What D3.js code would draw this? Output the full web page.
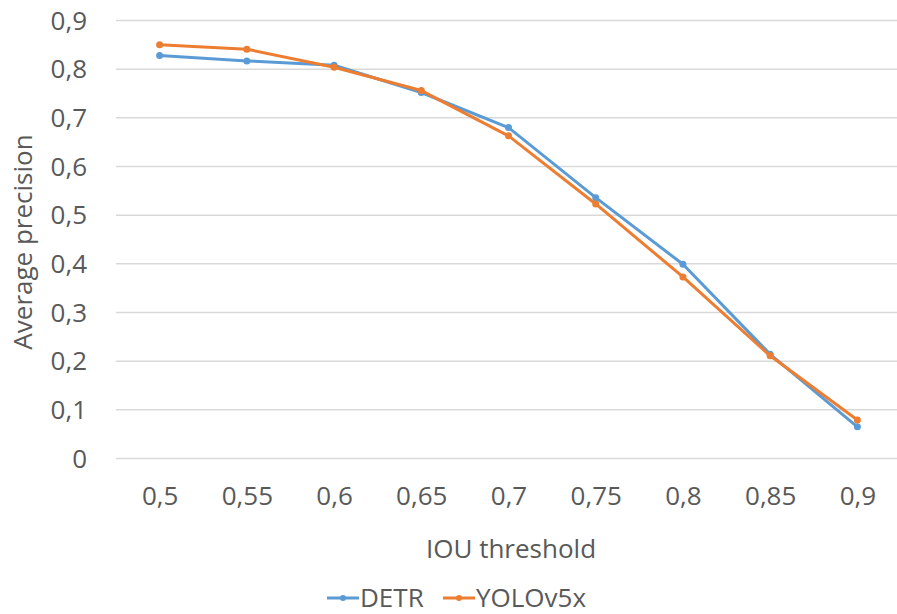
<!DOCTYPE html>
<html>
<head>
<meta charset="utf-8">
<script src="https://cdn.jsdelivr.net/npm/d3@7"></script>
<style>
  body { margin: 0; background: #fff; }
  text { font-family: "Open Sans", sans-serif; fill: #595959; }
</style>
</head>
<body>
<svg width="897" height="614"></svg>
<script>
// Chart data
const thresholds = ["0,5", "0,55", "0,6", "0,65", "0,7", "0,75", "0,8", "0,85", "0,9"];
const detr = [0.827, 0.816, 0.807, 0.751, 0.679, 0.535, 0.398, 0.213, 0.064];
const yolo = [0.849, 0.840, 0.803, 0.755, 0.662, 0.522, 0.372, 0.210, 0.078];
const yTicks = [0, 0.1, 0.2, 0.3, 0.4, 0.5, 0.6, 0.7, 0.8, 0.9];
const seriesNames = ["DETR", "YOLOv5x"];
const colors = ["#5B9BD5", "#ED7D31"];
const fontSize = "26px";

const svg = d3.select("svg");

// Plot area
const plot = { left: 116, right: 901, top: 20, bottom: 458 };

const x = d3.scalePoint()
    .domain(thresholds)
    .range([plot.left, plot.right])
    .padding(0.5);

const y = d3.scaleLinear()
    .domain([0, 0.9])
    .range([plot.bottom, plot.top]);

const fmt = d => String(+d.toFixed(1)).replace(".", ",");

// Gridlines + y labels
const yAxis = svg.append("g")
    .attr("transform", `translate(${plot.left},0)`)
    .call(d3.axisLeft(y).tickValues(yTicks).tickSize(0).tickPadding(29).tickFormat(fmt))
    .call(g => g.select(".domain").remove());
yAxis.selectAll(".tick text")
    .style("font-size", fontSize)
    .style("fill", "#595959")
    .attr("dy", "0.35em");
yAxis.selectAll(".tick line").clone()
    .attr("x2", 897 - plot.left)
    .attr("stroke", "#d9d9d9")
    .attr("stroke-width", 1.5);

// x labels
const xAxis = svg.append("g")
    .attr("transform", `translate(0,${plot.bottom})`)
    .call(d3.axisBottom(x).tickSize(0).tickPadding(38))
    .call(g => g.select(".domain").remove());
xAxis.selectAll(".tick text")
    .style("font-size", fontSize)
    .style("fill", "#595959")
    .attr("dy", "0.35em");

// axis titles
svg.append("text")
    .attr("x", 511)
    .attr("y", 558)
    .attr("text-anchor", "middle")
    .style("font-size", fontSize)
    .text("IOU threshold");

svg.append("text")
    .attr("transform", "rotate(-90)")
    .attr("x", -242)
    .attr("y", 32)
    .attr("text-anchor", "middle")
    .style("font-size", fontSize)
    .text("Average precision");

// lines
const line = d3.line()
    .x((d, i) => x(thresholds[i]))
    .y(d => y(d));

[detr, yolo].forEach((vals, k) => {
    svg.append("path")
        .datum(vals)
        .attr("fill", "none")
        .attr("stroke", colors[k])
        .attr("stroke-width", 3)
        .attr("stroke-linejoin", "round")
        .attr("d", line);
    svg.append("g").selectAll("circle")
        .data(vals)
        .join("circle")
        .attr("cx", (d, i) => x(thresholds[i]))
        .attr("cy", d => y(d))
        .attr("r", 3.5)
        .attr("fill", colors[k]);
});

// legend
const legendX = [327, 443];
seriesNames.forEach((name, k) => {
    const g = svg.append("g").attr("transform", `translate(${legendX[k]},598)`);
    g.append("line")
        .attr("x1", 0).attr("x2", 32)
        .attr("stroke", colors[k])
        .attr("stroke-width", 3);
    g.append("circle")
        .attr("cx", 16).attr("r", 3)
        .attr("fill", colors[k]);
    g.append("text")
        .attr("x", 33)
        .attr("dy", "0.35em")
        .style("font-size", fontSize)
        .text(name);
});
</script>
</body>
</html>
